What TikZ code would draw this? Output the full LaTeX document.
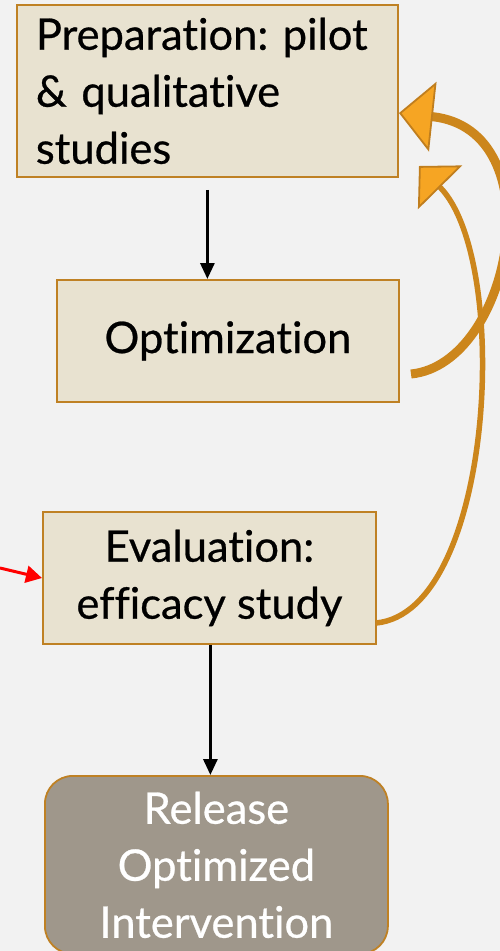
\documentclass[tikz,border=0pt]{standalone}
\usepackage{fontspec}
\setmainfont{Lato}[RawFeature={-liga}, FakeBold=0.6]
\usetikzlibrary{arrows.meta}
\definecolor{bg}{HTML}{F2F2F2}
\definecolor{boxfill}{HTML}{E8E2D0}
\definecolor{boxdraw}{HTML}{BF8124}
\definecolor{orfill}{HTML}{F6A523}
\definecolor{orbody}{HTML}{CC861C}
\definecolor{ordraw}{HTML}{C07E1E}
\definecolor{relfill}{HTML}{9F978B}
\tikzset{
  stagebox/.style={draw=boxdraw, fill=boxfill, line width=1.8pt, inner sep=0pt,
    font=\fontsize{43.5}{57}\selectfont\frenchspacing, align=center},
  flowarrow/.style={line width=3pt, -{Triangle[length=16pt,width=14pt]}},
  loopthick/.style={draw=orbody, line width=9pt,
    -{Triangle[length=34pt,width=70pt,line width=1.8pt,fill=orfill,color=ordraw]}},
  loopthin/.style={draw=orbody, line width=5.5pt,
    -{Triangle[length=30pt,width=62pt,line width=1.8pt,fill=orfill,color=ordraw]}},
  redarrow/.style={draw=red, line width=3pt, -{Triangle[length=16pt,width=17pt]}}
}
\begin{document}
\begin{tikzpicture}[x=1pt,y=-1pt]
\useasboundingbox (0,0) rectangle (500,951);
\fill[bg] (0,0) rectangle (500,951);
\clip (0,0) rectangle (500,951);

\node[stagebox, anchor=north west, minimum width=381pt, minimum height=172pt,
      text width=343pt, align=left] (prep) at (16,4)
  {Preparation: pilot\\ \& qualitative\\ studies};
\node[stagebox, anchor=north west, minimum width=342pt, minimum height=122pt] (opt) at (56,279)
  {Optimization};
\node[stagebox, anchor=north west, minimum width=333pt, minimum height=132pt] (eval) at (42,511)
  {Evaluation:\\ efficacy study};
\node[stagebox, fill=relfill, text=white, rounded corners=28pt, anchor=north west,
      minimum width=343pt, minimum height=178pt] (rel) at (44,775)
  {Release\\ Optimized\\ Intervention};

\coordinate (a1s) at ([yshift=-12pt]prep.south);
\draw[flowarrow] (a1s) -- (a1s |- opt.north);
\coordinate (a2s) at ([xshift=1pt]eval.south);
\draw[flowarrow] (a2s) -- (a2s |- rel.north);

\coordinate (t1a) at (411,374);
\coordinate (t1b) at (399,113);
\draw[loopthick] (t1a) .. controls (512,364) and (555,130) .. (t1b);

\coordinate (t2a) at (376,623);
\coordinate (t2b) at (419,166);
\draw[loopthin] (t2a) .. controls (494,612) and (512,260) .. (t2b);

\coordinate (rs) at (0,568);
\draw[redarrow] (rs) -- (eval.west |- 0,578);
\end{tikzpicture}
\end{document}
